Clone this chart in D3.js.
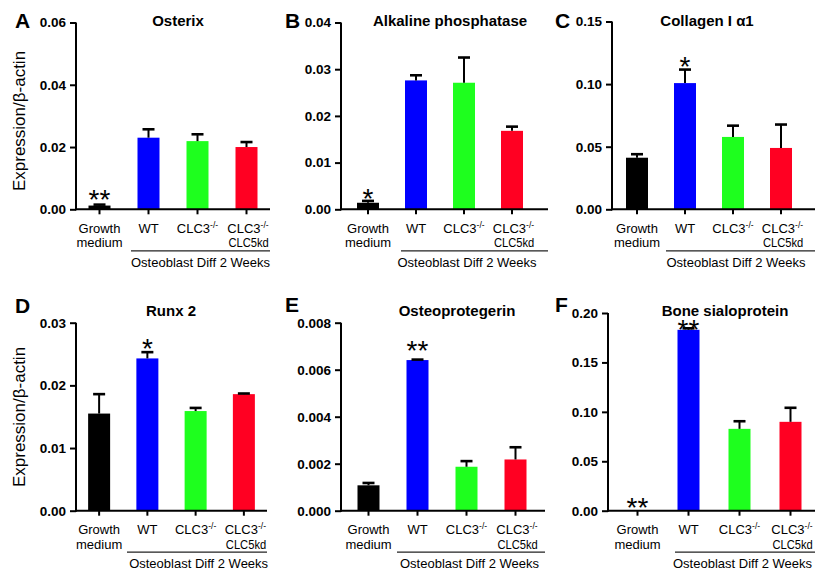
<!DOCTYPE html>
<html><head><meta charset="utf-8">
<script src="https://cdn.jsdelivr.net/npm/d3@7"></script>
<style>
body{margin:0;background:#fff}
svg{display:block}
text{font-family:"Liberation Sans",Arial,Helvetica,sans-serif;fill:#000}
</style>
</head><body>
<svg id="chart" width="815" height="571"></svg>
<script>
// ---------- DATA ----------
const categories = ["Growth medium", "WT", "CLC3-/-", "CLC3-/- CLC5kd"];
// label lines; "^" marks superscript part
const categoryLines = [["Growth", "medium"], ["WT"], ["CLC3^-/-"], ["CLC3^-/-", "CLC5kd"]];
const barColors = ["#000000", "#0000ff", "#1eff1e", "#ff0022"];
const groupLabel = "Osteoblast Diff 2 Weeks";
const yAxisTitle = "Expression/\u03b2-actin";

const osterixMean = [0.0012, 0.0230, 0.0219, 0.0200];
const osterixSem  = [0.0003, 0.0027, 0.0022, 0.0016];
const osterixTicks = [0, 0.02, 0.04, 0.06];
const osterixStars = ["**", "", "", ""];

const alpMean = [0.0014, 0.0276, 0.0271, 0.0168];
const alpSem  = [0.0004, 0.0011, 0.0054, 0.0009];
const alpTicks = [0, 0.01, 0.02, 0.03, 0.04];
const alpStars = ["*", "", "", ""];

const colMean = [0.0412, 0.1008, 0.0578, 0.0490];
const colSem  = [0.0028, 0.0108, 0.0090, 0.0187];
const colTicks = [0, 0.05, 0.10, 0.15];
const colStars = ["", "*", "", ""];

const runxMean = [0.0155, 0.0243, 0.0159, 0.0186];
const runxSem  = [0.0031, 0.0010, 0.0005, 0.0001];
const runxTicks = [0, 0.01, 0.02, 0.03];
const runxStars = ["", "*", "", ""];

const opgMean = [0.00108, 0.00641, 0.00187, 0.00218];
const opgSem  = [0.00010, 0.00002, 0.00024, 0.00052];
const opgTicks = [0, 0.002, 0.004, 0.006, 0.008];
const opgStars = ["", "**", "", ""];

const bspMean = [0, 0.1830, 0.0828, 0.0899];
const bspSem  = [0, 0.0015, 0.0077, 0.0142];
const bspTicks = [0, 0.05, 0.10, 0.15, 0.20];
const bspStars = ["**", "**", "", ""];

// ---------- LAYOUT ----------
const panels = [
  {letter:"A", title:"Osterix", mean:osterixMean, sem:osterixSem, ticks:osterixTicks, fmt:".2f", stars:osterixStars, yTitle:true,
   L:{ax:76, b0:75, b1:271, axEnd:270, top:22.5, zero:209.3, tx:178, ty:26, lx:15, ly:28, sg:[12.5,0,0,0], brL:131, ytY:121}},
  {letter:"B", title:"Alkaline phosphatase", mean:alpMean, sem:alpSem, ticks:alpTicks, fmt:".2f", stars:alpStars, yTitle:false,
   L:{ax:341, b0:344, b1:536, axEnd:548, top:22.5, zero:209.3, tx:450, ty:26, lx:285, ly:28, sg:[9.5,0,0,0], brL:401}},
  {letter:"C", title:"Collagen I \u03b11", mean:colMean, sem:colSem, ticks:colTicks, fmt:".2f", stars:colStars, yTitle:false,
   L:{ax:612, b0:613, b1:805, axEnd:815, top:21.5, zero:209.3, tx:707, ty:26, lx:555, ly:28, sg:[0,10,0,0], brL:666}},
  {letter:"D", title:"Runx 2", mean:runxMean, sem:runxSem, ticks:runxTicks, fmt:".2f", stars:runxStars, yTitle:true,
   L:{ax:76, b0:75, b1:268, axEnd:267, top:322.7, zero:510.7, tx:171, ty:316, lx:15, ly:313, sg:[0,10.4,0,0], brL:127, ytY:417}},
  {letter:"E", title:"Osteoprotegerin", mean:opgMean, sem:opgSem, ticks:opgTicks, fmt:".3f", stars:opgStars, yTitle:false,
   L:{ax:341, b0:344, b1:540, axEnd:545, top:322.7, zero:510.7, tx:457, ty:316, lx:285, ly:312, sg:[0,16.3,0,0], brL:397}},
  {letter:"F", title:"Bone sialoprotein", mean:bspMean, sem:bspSem, ticks:bspTicks, fmt:".2f", stars:bspStars, yTitle:false,
   L:{ax:608, b0:612, b1:816, axEnd:815, top:313, zero:510.7, tx:725, ty:316, lx:555, ly:312, sg:[10.7,5.7,0,0], brL:675}}
];

const svg = d3.select("#chart");
const starFs = 28;

panels.forEach(p => {
  const L = p.L;
  const g = svg.append("g");
  const y = d3.scaleLinear().domain([p.ticks[0], p.ticks[p.ticks.length-1]]).range([L.zero, L.top]);
  const x = d3.scaleBand().domain(categories).range([L.b0, L.b1]).paddingInner(0).paddingOuter(0);
  const bw = 22;
  const cx = c => x(c) + x.bandwidth()/2;

  // bars
  g.selectAll("rect.bar").data(categories).join("rect")
    .attr("x", c => cx(c) - bw/2)
    .attr("width", bw)
    .attr("y", (c,i) => y(p.mean[i]))
    .attr("height", (c,i) => L.zero - y(p.mean[i]))
    .attr("fill", (c,i) => barColors[i]);

  // error bars (upper only)
  categories.forEach((c,i) => {
    if (p.mean[i] <= 0) return;
    const yt = y(p.mean[i] + p.sem[i]);
    g.append("line").attr("x1", cx(c)).attr("x2", cx(c)).attr("y1", y(p.mean[i])).attr("y2", yt)
      .attr("stroke", "#000").attr("stroke-width", 2);
    g.append("line").attr("x1", cx(c) - 6).attr("x2", cx(c) + 6).attr("y1", yt).attr("y2", yt)
      .attr("stroke", "#000").attr("stroke-width", 2.6);
  });

  // y axis
  const ya = g.append("g").attr("transform", `translate(${L.ax},0)`)
    .call(d3.axisLeft(y).tickValues(p.ticks).tickFormat(d3.format(p.fmt)).tickSize(6).tickSizeOuter(0).tickPadding(4));
  ya.select(".domain").attr("stroke", "#000").attr("stroke-width", 2).attr("d", `M0,${L.top}V${L.zero+1}`);
  ya.selectAll(".tick line").attr("stroke", "#000").attr("stroke-width", 2);
  ya.selectAll(".tick text").attr("font-size", 13.5).attr("font-weight", "bold")
    .attr("font-family", '"Liberation Sans",Arial,sans-serif').attr("fill", "#000");

  // x axis
  const xa = g.append("g").attr("transform", `translate(0,${L.zero})`)
    .call(d3.axisBottom(x).tickSize(5).tickSizeOuter(0).tickFormat(""));
  xa.select(".domain").remove();
  xa.selectAll(".tick line").attr("stroke", "#000").attr("stroke-width", 2);
  g.append("line").attr("x1", L.ax - 1).attr("x2", L.axEnd).attr("y1", L.zero).attr("y2", L.zero)
    .attr("stroke", "#000").attr("stroke-width", 2);

  // category labels
  categories.forEach((c,i) => {
    let firstRight = null;
    categoryLines[i].forEach((line, k) => {
      const yy = L.zero + (k === 0 ? 23.5 : 38);
      const parts = line.split("^");
      if (k === 0) {
        const t = g.append("text").attr("x", cx(c) + (i === 3 ? 1.5 : 0)).attr("y", yy)
          .attr("text-anchor", "middle").attr("font-size", 13);
        t.append("tspan").text(parts[0]);
        if (parts[1]) t.append("tspan").attr("font-size", 8.5).attr("dy", -5).text(parts[1]);
        const bb = t.node().getBBox();
        firstRight = bb.x + bb.width;
      } else if (i === 3) {
        // second line, slightly condensed and right-aligned under first line
        const gg = g.append("g").attr("transform", `translate(${firstRight},${yy}) scale(0.86,1)`);
        gg.append("text").attr("text-anchor", "end").attr("font-size", 13).text(parts[0]);
      } else {
        g.append("text").attr("x", cx(c)).attr("y", yy).attr("text-anchor", "middle")
          .attr("font-size", 13).text(parts[0]);
      }
    });
  });

  // group bracket + label
  g.append("line").attr("x1", L.brL).attr("x2", L.axEnd).attr("y1", L.zero + 41.5).attr("y2", L.zero + 41.5)
    .attr("stroke", "#222").attr("stroke-width", 1.2);
  g.append("text").attr("x", (cx(categories[1]) + cx(categories[3]))/2 + 3).attr("y", L.zero + 57.5)
    .attr("text-anchor", "middle").attr("font-size", 13).text(groupLabel);

  // significance stars
  categories.forEach((c,i) => {
    if (!p.stars[i]) return;
    const top = p.mean[i] > 0 ? y(p.mean[i] + p.sem[i]) : L.zero;
    const center = top - L.sg[i];
    g.append("text").attr("x", cx(c)).attr("y", center + 0.59*starFs)
      .attr("text-anchor", "middle").attr("font-size", starFs).text(p.stars[i]);
  });

  // title + panel letter
  g.append("text").attr("x", L.tx).attr("y", L.ty).attr("text-anchor", "middle")
    .attr("font-size", 15).attr("font-weight", "bold").text(p.title);
  g.append("text").attr("x", L.lx).attr("y", L.ly).attr("font-size", 21).attr("font-weight", "bold").text(p.letter);

  if (p.yTitle) {
    g.append("text").attr("transform", `translate(25,${L.ytY}) rotate(-90)`).attr("text-anchor", "middle")
      .attr("font-size", 17).text(yAxisTitle);
  }
});
</script>
</body></html>
